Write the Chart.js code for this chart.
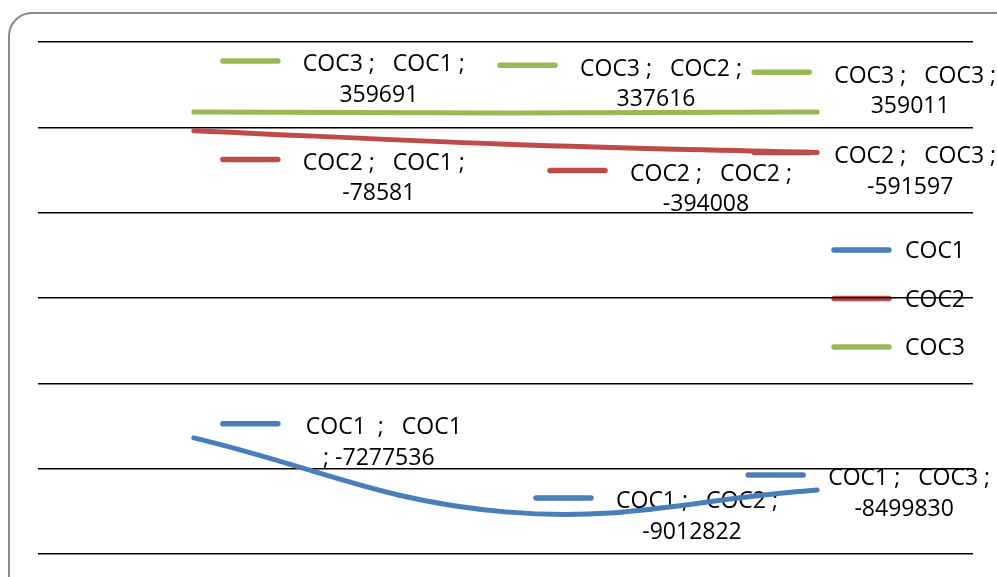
<!DOCTYPE html>
<html>
<head>
<meta charset="utf-8">
<script src="https://cdn.jsdelivr.net/npm/chart.js@4/dist/chart.umd.min.js"></script>
<style>
  html,body{margin:0;padding:0;background:#fff;overflow:hidden;}
  #wrap{position:relative;width:997px;height:577px;}
  #frame{position:absolute;left:8px;top:12px;width:1010px;height:600px;border:2px solid #8a8a8a;border-radius:24px;box-sizing:border-box;}
  canvas{position:absolute;left:0;top:0;}
</style>
</head>
<body>
<div id="wrap">
  <div id="frame"></div>
  <canvas id="c" width="997" height="577"></canvas>
</div>
<script>
// ---- data ----
const categories = ['COC1', 'COC2', 'COC3'];
const seriesNames = ['COC1', 'COC2', 'COC3'];
const coc1Values = [-7277536, -9012822, -8499830];
const coc2Values = [-78581, -394008, -591597];
const coc3Values = [359691, 337616, 359011];
const yMin = -10000000;
const yMax = 2000000;
const yStep = 2000000;

// ---- style ----
const colors = ['#4A7EBB', '#BE4B48', '#98B954'];
const FONT = '23px "Open Sans", sans-serif';
// offsets of each data label's legend key (left end) from its point, px
const labelOffsets = [
  [[29, -14], [30.5, -14], [-69, -15]],
  [[29, 28.7], [44.5, 26.3], [-63, 0]],
  [[29, -51], [-5.5, -47.7], [-63, -39.7]]
];
// label whose value wraps with the trailing separator
const wrapEarly = [[true, false, false], [false, false, false], [false, false, false]];

const seriesValues = [coc1Values, coc2Values, coc3Values];

function drawKey(ctx, x, y, color) {
  ctx.save();
  ctx.strokeStyle = color;
  ctx.lineWidth = 5.5;
  ctx.lineCap = 'round';
  ctx.beginPath();
  ctx.moveTo(x, y);
  ctx.lineTo(x + 55, y);
  ctx.stroke();
  ctx.restore();
}

const labelsPlugin = {
  id: 'labelsAndLegend',
  beforeDraw(chart) {
    const ctx = chart.ctx;
    const area = chart.chartArea;
    ctx.save();
    ctx.font = FONT;
    ctx.fillStyle = '#000';
    ctx.textBaseline = 'alphabetic';
    // legend
    seriesNames.forEach((name, i) => {
      const ky = area.top + 208 + i * 48.5;
      drawKey(ctx, area.right - 139, ky, colors[i]);
      ctx.textAlign = 'left';
      ctx.fillText(name, area.right - 68, ky + 8);
    });
    // data labels
    chart.data.datasets.forEach((ds, si) => {
      const meta = chart.getDatasetMeta(si);
      meta.data.forEach((pt, ci) => {
        const off = labelOffsets[si][ci];
        const kx = pt.x + off[0];
        const ky = pt.y + off[1];
        drawKey(ctx, kx, ky, colors[si]);
        const val = String(ds.data[ci]);
        let l1, l2;
        if (wrapEarly[si][ci]) {
          l1 = ds.label + '  ;   ' + categories[ci];
          l2 = '; ' + val;
        } else {
          l1 = ds.label + ' ;   ' + categories[ci] + ' ;';
          l2 = val;
        }
        ctx.textAlign = 'center';
        ctx.fillText(l1, kx + 161, ky + 10.5);
        ctx.fillText(l2, kx + 156, ky + 41);
      });
    });
    ctx.restore();
  }
};

new Chart(document.getElementById('c'), {
  type: 'line',
  data: {
    labels: categories,
    datasets: seriesNames.map((name, i) => ({
      label: name,
      data: seriesValues[i],
      borderColor: colors[i],
      backgroundColor: colors[i],
      borderWidth: 5,
      borderCapStyle: 'round',
      pointRadius: 0,
      pointHoverRadius: 0,
      tension: 0.4,
      fill: false
    }))
  },
  options: {
    responsive: false,
    animation: false,
    events: [],
    layout: { padding: { left: 38, top: 42, right: 24, bottom: 23 } },
    plugins: { legend: { display: false }, tooltip: { enabled: false } },
    scales: {
      x: {
        display: false,
        offset: true
      },
      y: {
        min: yMin,
        max: yMax,
        ticks: { display: false, stepSize: yStep },
        border: { display: false },
        grid: { color: '#000', lineWidth: 1.5, drawTicks: false },
        afterFit(s) { s.width = 0; }
      }
    }
  },
  plugins: [labelsPlugin]
});
</script>
</body>
</html>
